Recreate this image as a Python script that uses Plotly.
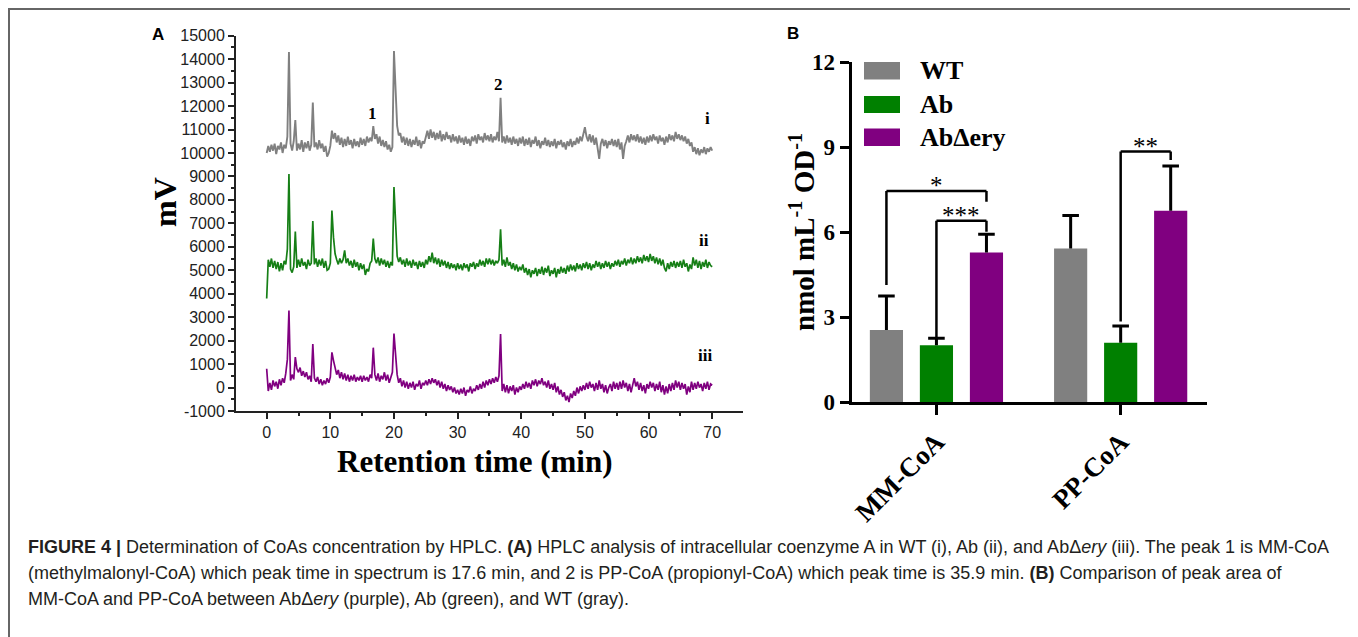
import plotly.graph_objects as go

# page body adds an 8px margin; the figure is sized/positioned to compensate
OFF = 8
W, H = 1358 - OFF, 637 - OFF

# ---------------- Panel A data (HPLC chromatograms, mV vs min) ----------------
time_min = [
    0, 0.25, 0.5, 0.75, 1, 1.25, 1.5, 1.75, 2, 2.25, 2.5, 2.75, 3, 3.25, 3.5, 3.75, 4, 4.25, 4.5, 4.75,
    5, 5.25, 5.5, 5.75, 6, 6.25, 6.5, 6.75, 7, 7.25, 7.5, 7.75, 8, 8.25, 8.5, 8.75, 9, 9.25, 9.5, 9.75,
    10, 10.25, 10.5, 10.75, 11, 11.25, 11.5, 11.75, 12, 12.25, 12.5, 12.75, 13, 13.25, 13.5, 13.75, 14, 14.25, 14.5, 14.75,
    15, 15.25, 15.5, 15.75, 16, 16.25, 16.5, 16.75, 17, 17.25, 17.5, 17.75, 18, 18.25, 18.5, 18.75, 19, 19.25, 19.5, 19.75,
    20, 20.25, 20.5, 20.75, 21, 21.25, 21.5, 21.75, 22, 22.25, 22.5, 22.75, 23, 23.25, 23.5, 23.75, 24, 24.25, 24.5, 24.75,
    25, 25.25, 25.5, 25.75, 26, 26.25, 26.5, 26.75, 27, 27.25, 27.5, 27.75, 28, 28.25, 28.5, 28.75, 29, 29.25, 29.5, 29.75,
    30, 30.25, 30.5, 30.75, 31, 31.25, 31.5, 31.75, 32, 32.25, 32.5, 32.75, 33, 33.25, 33.5, 33.75, 34, 34.25, 34.5, 34.75,
    35, 35.25, 35.5, 35.75, 36, 36.25, 36.5, 36.75, 37, 37.25, 37.5, 37.75, 38, 38.25, 38.5, 38.75, 39, 39.25, 39.5, 39.75,
    40, 40.25, 40.5, 40.75, 41, 41.25, 41.5, 41.75, 42, 42.25, 42.5, 42.75, 43, 43.25, 43.5, 43.75, 44, 44.25, 44.5, 44.75,
    45, 45.25, 45.5, 45.75, 46, 46.25, 46.5, 46.75, 47, 47.25, 47.5, 47.75, 48, 48.25, 48.5, 48.75, 49, 49.25, 49.5, 49.75,
    50, 50.25, 50.5, 50.75, 51, 51.25, 51.5, 51.75, 52, 52.25, 52.5, 52.75, 53, 53.25, 53.5, 53.75, 54, 54.25, 54.5, 54.75,
    55, 55.25, 55.5, 55.75, 56, 56.25, 56.5, 56.75, 57, 57.25, 57.5, 57.75, 58, 58.25, 58.5, 58.75, 59, 59.25, 59.5, 59.75,
    60, 60.25, 60.5, 60.75, 61, 61.25, 61.5, 61.75, 62, 62.25, 62.5, 62.75, 63, 63.25, 63.5, 63.75, 64, 64.25, 64.5, 64.75,
    65, 65.25, 65.5, 65.75, 66, 66.25, 66.5, 66.75, 67, 67.25, 67.5, 67.75, 68, 68.25, 68.5, 68.75, 69, 69.25, 69.5, 69.75,
    70,
]

wt_mv = [  # trace i (gray)
    10000, 10300, 10050, 10350, 10100, 10400, 9950, 10300, 10150, 10450, 10000, 10350, 10200, 10700, 14300, 10400, 10100, 10500, 11400, 10100,
    10400, 10150, 10550, 10050, 10450, 10200, 10500, 10100, 10350, 12150, 10250, 10450, 10150, 10550, 10200, 10400, 10050, 10300, 9850, 10000,
    10300, 10950, 10600, 10850, 10450, 10750, 10350, 10650, 10250, 10600, 10300, 10700, 10350, 10550, 10200, 10600, 10300, 10500, 10250, 10650,
    10350, 10600, 10300, 10700, 10450, 10650, 10500, 11150, 10600, 10800, 10400, 10700, 10300, 10550, 10250, 10500, 10150, 10350, 10050, 10250,
    14350, 12300, 11150, 10750, 10850, 10450, 10700, 10350, 10650, 10300, 10600, 10250, 10550, 10350, 10700, 10300, 10550, 10200, 10500, 10400,
    10650, 10950, 10600, 11000, 10650, 10900, 10550, 10850, 10600, 10950, 10500, 10800, 10550, 10900, 10600, 10750, 10450, 10800, 10500, 10700,
    10400, 10750, 10450, 10650, 10350, 10700, 10400, 10600, 10300, 10700, 10500, 10750, 10400, 10800, 10550, 10700, 10450, 10850, 10550, 10750,
    10500, 10800, 10450, 10700, 10550, 10900, 10500, 12350, 10450, 10700, 10400, 10750, 10450, 10650, 10350, 10700, 10400, 10600, 10300, 10650,
    10400, 10700, 10300, 10600, 10350, 10650, 10250, 10550, 10400, 10700, 10300, 10550, 10200, 10500, 10350, 10650, 10300, 10550, 10250, 10500,
    10300, 10600, 10200, 10500, 10350, 10550, 10250, 10450, 10150, 10500, 10300, 10600, 10250, 10500, 10350, 10650, 10400, 10700, 10500, 10750,
    11100, 10700, 10500, 10800, 10450, 10750, 10350, 10650, 10250, 9750, 10400, 10600, 10300, 10550, 10200, 10500, 10350, 10600, 10300, 10550,
    10250, 10600, 10150, 10450, 9750, 10300, 10500, 10750, 10450, 10800, 10550, 10750, 10500, 10800, 10450, 10700, 10400, 10650, 10350, 10700,
    10450, 10750, 10500, 10800, 10550, 10700, 10400, 10750, 10500, 10650, 10350, 10700, 10450, 10800, 10550, 10750, 10500, 10900, 10600, 10800,
    10550, 10750, 10500, 10700, 10400, 10600, 10300, 10450, 10050, 10250, 9950, 10200, 9900, 10150, 10000, 10250, 9950, 10200, 10050, 10250,
    10100,
]

ab_mv = [  # trace ii (green)
    3800, 5450, 5150, 5500, 5100, 5400, 5050, 5350, 4950, 5300, 5000, 5400, 5250, 5900, 9100, 5050, 4900, 5150, 6650, 5100,
    5450, 5150, 5500, 5200, 5350, 5050, 5450, 5200, 5300, 7100, 5250, 5500, 5150, 5450, 5200, 5500, 5100, 5400, 5000, 5050,
    5300, 7550, 6400, 5700, 5450, 5250, 5500, 5300, 5450, 5850, 5300, 5500, 5200, 5400, 5100, 5450, 5150, 5350, 5000, 5300,
    5050, 5250, 4800, 5050, 4950, 5300, 5400, 6350, 5500, 5300, 5550, 5200, 5500, 5250, 5450, 5150, 5400, 5100, 5350, 5200,
    8550, 6700, 5600, 5350, 5550, 5250, 5450, 5150, 5500, 5200, 5400, 5100, 5450, 5200, 5350, 5050, 5400, 5150, 5350, 5100,
    5450, 5250, 5600, 5350, 5750, 5300, 5550, 5250, 5500, 5150, 5450, 5200, 5400, 5100, 5350, 5050, 5300, 5100, 5250, 5000,
    5300, 5050, 5250, 5000, 5300, 5100, 5250, 4950, 5300, 5150, 5350, 5050, 5300, 5150, 5450, 5200, 5400, 5150, 5500, 5250,
    5500, 5250, 5450, 5200, 5400, 5300, 5450, 6750, 5200, 5450, 5150, 5550, 5200, 5350, 5050, 5300, 5000, 5250, 4950, 5150,
    5000, 5250, 4900, 5100, 4800, 5050, 4700, 5000, 4850, 5100, 4750, 5050, 4850, 5150, 4800, 5100, 4900, 5200, 4750, 5000,
    4850, 5100, 4700, 5050, 4850, 5150, 4900, 5100, 4850, 5200, 4950, 5250, 5000, 5200, 4950, 5300, 5050, 5250, 5000, 5300,
    5100, 5350, 5050, 5300, 5000, 5250, 5100, 5400, 5150, 5350, 5050, 5300, 5100, 5400, 5150, 5350, 5050, 5300, 5150, 5400,
    5200, 5450, 5150, 5400, 5250, 5500, 5200, 5450, 5300, 5550, 5250, 5500, 5300, 5600, 5350, 5550, 5300, 5650, 5400, 5600,
    5350, 5700, 5400, 5600, 5300, 5550, 5250, 5500, 5200, 5450, 5100, 4950, 5300, 5050, 5350, 5150, 5400, 5100, 5350, 5150,
    5400, 5100, 5450, 5150, 5300, 4950, 5250, 5050, 5550, 5200, 5450, 5100, 5400, 5050, 5350, 5150, 5450, 5100, 5350, 5200,
    5150,
]

abdery_mv = [  # trace iii (purple)
    800, -150, 200, -100, 300, 50, 250, -50, 350, 100, 400, 200, 600, 1200, 3280, 300, 550, 350, 1300, 800,
    650, 850, 500, 700, 450, 650, 350, 500, 250, 1850, 400, 250, 450, 150, 350, 100, 300, 150, 400, 200,
    450, 1500, 1150, 800, 550, 750, 400, 650, 350, 600, 300, 550, 250, 500, 300, 550, 250, 450, 300, 500,
    250, 500, 300, 450, 250, 550, 400, 1700, 550, 300, 600, 250, 500, 350, 650, 300, 550, 200, 450, 650,
    2300, 1350, 550, 200, 400, 50, 300, 0, 250, -50, 200, 0, 250, -100, 150, 50, 300, -50, 200, 100,
    300, 100, 350, 150, 400, 200, 350, 100, 300, 0, 250, -50, 150, -150, 100, -100, 50, -200, 0, -250,
    -100, -300, -50, -250, 0, -350, -100, -200, 50, -250, -50, -150, 100, -100, 150, -50, 250, 0, 300, 100,
    350, 150, 400, 200, 450, 250, 500, 2280, -150, 150, -200, 100, -250, 50, -150, 100, -300, 0, -200, 50,
    -100, 150, -50, 250, 0, 200, -50, 300, 100, 350, 50, 300, 150, 400, 100, 250, 0, 300, -50, 150,
    -100, 200, -200, 50, -300, -100, -400, -200, -550, -350, -620, -250, -450, -150, -350, 0, -250, 50, -150, 100,
    -100, 200, -50, 250, 0, 150, -150, 200, -100, 300, -50, 150, -200, 100, -250, 0, 150, -150, 250, -50,
    200, -100, 250, -50, 300, 0, 200, -150, 150, -200, 100, 400, 50, 250, -100, 200, -150, 100, -250, 150,
    -50, 250, 0, 200, -150, 150, -100, 250, -200, 100, -300, 50, -250, 150, -150, 200, -100, 300, 0, 250,
    -100, 200, -50, 150, -300, 50, -200, 250, -100, 200, -50, 250, 0, 150, -150, 200, -50, 250, -100, 150,
    100,
]

x_ticks_a = [0, 10, 20, 30, 40, 50, 60, 70]
y_ticks_a = [-1000, 0, 1000, 2000, 3000, 4000, 5000, 6000, 7000, 8000,
             9000, 10000, 11000, 12000, 13000, 14000, 15000]

# peak / trace labels (text, time, mV)
trace_labels = [("1", 16.55, 11700), ("2", 36.35, 12940),
                ("i", 69.2, 11480), ("ii", 68.7, 6280), ("iii", 68.9, 1380)]

# ---------------- Panel B data ----------------
compounds = ["MM-CoA", "PP-CoA"]
strains = ["WT", "Ab", "AbΔery"]
mean_wt = [2.55, 5.43]
mean_ab = [2.01, 2.10]
mean_abdery = [5.29, 6.76]
sd_wt = [1.20, 1.16]
sd_ab = [0.25, 0.59]
sd_abdery = [0.64, 1.58]
y_ticks_b = [0, 3, 6, 9, 12]

# significance: (compound index, group a, group b, bottom a, bottom b, top, label)
sig_brackets = [
    (0, 0, 2, 4.14, 7.08, 7.46, "*"),
    (0, 1, 2, 2.28, 6.02, 6.41, "***"),
    (1, 1, 2, 2.85, 8.55, 8.85, "**"),
]

# ---------------- styles ----------------
C_GRAY = "#808080"
C_GREEN_LINE = "#167f16"
C_PURPLE_LINE = "#800080"
C_GREEN = "#008000"
C_PURPLE = "#800080"
SERIF = "Liberation Serif"
SANS = "Liberation Sans"
AX = "#222222"


def px(x):
    return (x - OFF) / W


def py(y):
    return 1 - (y - OFF) / H


fig = go.Figure()

for vals, col, wd in [(wt_mv, C_GRAY, 1.9), (ab_mv, C_GREEN_LINE, 1.7), (abdery_mv, C_PURPLE_LINE, 1.7)]:
    fig.add_trace(go.Scatter(x=time_min, y=vals, mode="lines",
                             line=dict(color=col, width=wd),
                             xaxis="x", yaxis="y", showlegend=False))

bar_means = [mean_wt, mean_ab, mean_abdery]
bar_sds = [sd_wt, sd_ab, sd_abdery]
bar_cols = [C_GRAY, C_GREEN, C_PURPLE]
for name, m, c in zip(strains, bar_means, bar_cols):
    fig.add_trace(go.Bar(x=compounds, y=m, name=name, marker=dict(color=c, line=dict(width=0)),
                         xaxis="x2", yaxis="y2", showlegend=False))

BARGAP = 0.1855
BARGROUPGAP = 0.337
slot = (1 - BARGAP) / 3
CAP_HALF = 0.045  # category units

shapes = []
annotations = []

# one-sided (upper) error bars
for g, (m, s) in enumerate(zip(bar_means, bar_sds)):
    for ci in range(len(compounds)):
        xc = ci + (g - 1) * slot
        top = m[ci] + s[ci]
        shapes.append(dict(type="line", xref="x2", yref="y2", x0=xc, x1=xc, y0=m[ci], y1=top,
                           line=dict(color="black", width=3)))
        shapes.append(dict(type="line", xref="x2", yref="y2", x0=xc - CAP_HALF, x1=xc + CAP_HALF,
                           y0=top, y1=top, line=dict(color="black", width=3)))

for ci, ga, gb, ba, bb, top, lab in sig_brackets:
    xa = ci + (ga - 1) * slot
    xb = ci + (gb - 1) * slot
    for (x0, y0, x1, y1) in [(xa, ba, xa, top), (xa, top, xb, top), (xb, top, xb, bb)]:
        shapes.append(dict(type="line", xref="x2", yref="y2", x0=x0, y0=y0, x1=x1, y1=y1,
                           line=dict(color="black", width=2.5)))
    annotations.append(dict(xref="x2", yref="y2", x=(xa + xb) / 2, y=top, text=lab,
                            showarrow=False, xanchor="center", yanchor="bottom", yshift=-10,
                            font=dict(family=SERIF, size=25, color="black")))

# custom legend
leg_rows = [(62, 79.5), (96, 113), (128.5, 146)]
for name, c, (y0, y1) in zip(strains, bar_cols, leg_rows):
    shapes.append(dict(type="rect", xref="paper", yref="paper",
                       x0=px(864), x1=px(900), y0=py(y1), y1=py(y0),
                       fillcolor=c, line=dict(width=0)))
    annotations.append(dict(xref="paper", yref="paper", x=px(918), y=py((y0 + y1) / 2),
                            text="<b>%s</b>" % name, showarrow=False, xanchor="left",
                            yanchor="middle", font=dict(family=SERIF, size=26, color="black")))

for lab, t, v in trace_labels:
    annotations.append(dict(xref="x", yref="y", x=t, y=v, text="<b>%s</b>" % lab,
                            showarrow=False, xanchor="center", yanchor="middle",
                            font=dict(family=SERIF, size=17, color="black")))


def ptext(x, y, text, size, family, angle=0, xa="center"):
    annotations.append(dict(xref="paper", yref="paper", x=px(x), y=py(y), text=text,
                            textangle=angle, showarrow=False, xanchor=xa, yanchor="middle",
                            font=dict(family=family, size=size, color="black")))


ptext(158, 35, "<b>A</b>", 17, SANS)
ptext(793, 34, "<b>B</b>", 17, SANS)
ptext(165, 202, "<b>mV</b>", 32, SERIF, angle=-90)
ptext(475, 461, "<b>Retention time (min)</b>", 31, SERIF)
ptext(802, 232, "<b>nmol mL<sup>-1</sup> OD<sup>-1</sup></b>", 29, SERIF, angle=-90)

# caption
cap_lines = [
    "<b>FIGURE 4 |</b> Determination of CoAs concentration by HPLC. <b>(A)</b> HPLC analysis of intracellular coenzyme A in WT (i), Ab (ii), and AbΔ<i>ery</i> (iii). The peak 1 is MM-CoA",
    "(methylmalonyl-CoA) which peak time in spectrum is 17.6 min, and 2 is PP-CoA (propionyl-CoA) which peak time is 35.9 min. <b>(B)</b> Comparison of peak area of",
    "MM-CoA and PP-CoA between AbΔ<i>ery</i> (purple), Ab (green), and WT (gray).",
]
for i, line in enumerate(cap_lines):
    annotations.append(dict(xref="paper", yref="paper", x=px(26), y=py(547 + 26 * i),
                            text=line, showarrow=False, xanchor="left", yanchor="middle",
                            font=dict(family=SANS, size=18, color="#231f20")))

# frame
shapes.append(dict(type="rect", xref="paper", yref="paper", x0=px(9), x1=px(1354),
                   y0=py(660), y1=py(9), line=dict(color="#666666", width=2)))

fig.update_layout(
    width=W, height=H, template="none",
    margin=dict(l=0, r=0, t=0, b=0),
    paper_bgcolor="white", plot_bgcolor="rgba(0,0,0,0)",
    barmode="group", bargap=BARGAP, bargroupgap=BARGROUPGAP,
    showlegend=False,
    shapes=shapes, annotations=annotations,
    xaxis=dict(domain=[px(236), px(743)], range=[-4.82, 74.84], anchor="y",
               tickvals=x_ticks_a, ticktext=[str(v) for v in x_ticks_a],
               ticks="outside", ticklen=6, tickwidth=2, tickcolor=AX,
               showline=True, linewidth=2, linecolor=AX, showgrid=False, zeroline=False,
               minor=dict(dtick=5, tick0=0, ticks="outside", ticklen=3, tickwidth=1.5, tickcolor=AX),
               tickfont=dict(family=SANS, size=16, color="#222"), automargin=False),
    yaxis=dict(domain=[py(411), py(35.7)], range=[-1000, 15000], anchor="x",
               tickvals=y_ticks_a, ticktext=[str(v) for v in y_ticks_a],
               ticks="outside", ticklen=6, tickwidth=2, tickcolor=AX,
               showline=True, linewidth=2, linecolor=AX, showgrid=False, zeroline=False,
               minor=dict(dtick=500, tick0=0, ticks="outside", ticklen=3, tickwidth=1.5, tickcolor=AX),
               tickfont=dict(family=SANS, size=16, color="#222"), automargin=False),
    xaxis2=dict(domain=[px(851.7), px(1206.7)], type="category", range=[-0.46, 1.467],
                anchor="y2", tickangle=-45, ticks="outside", ticklen=10, tickwidth=3,
                tickcolor="black", showline=True, linewidth=3, linecolor="black",
                showgrid=False, zeroline=False,
                tickvals=compounds, ticktext=["<b>%s</b>" % c for c in compounds],
                tickfont=dict(family=SERIF, size=27, color="black"), automargin=False),
    yaxis2=dict(domain=[py(402.3), py(62.3)], range=[0, 12], anchor="x2",
                tickvals=y_ticks_b, ticktext=["<b>%d</b>" % v for v in y_ticks_b],
                ticks="outside", ticklen=9, tickwidth=3, tickcolor="black",
                showline=True, linewidth=3, linecolor="black", showgrid=False, zeroline=False,
                tickfont=dict(family=SERIF, size=23, color="black"), automargin=False),
)

fig.write_html("out.html")
